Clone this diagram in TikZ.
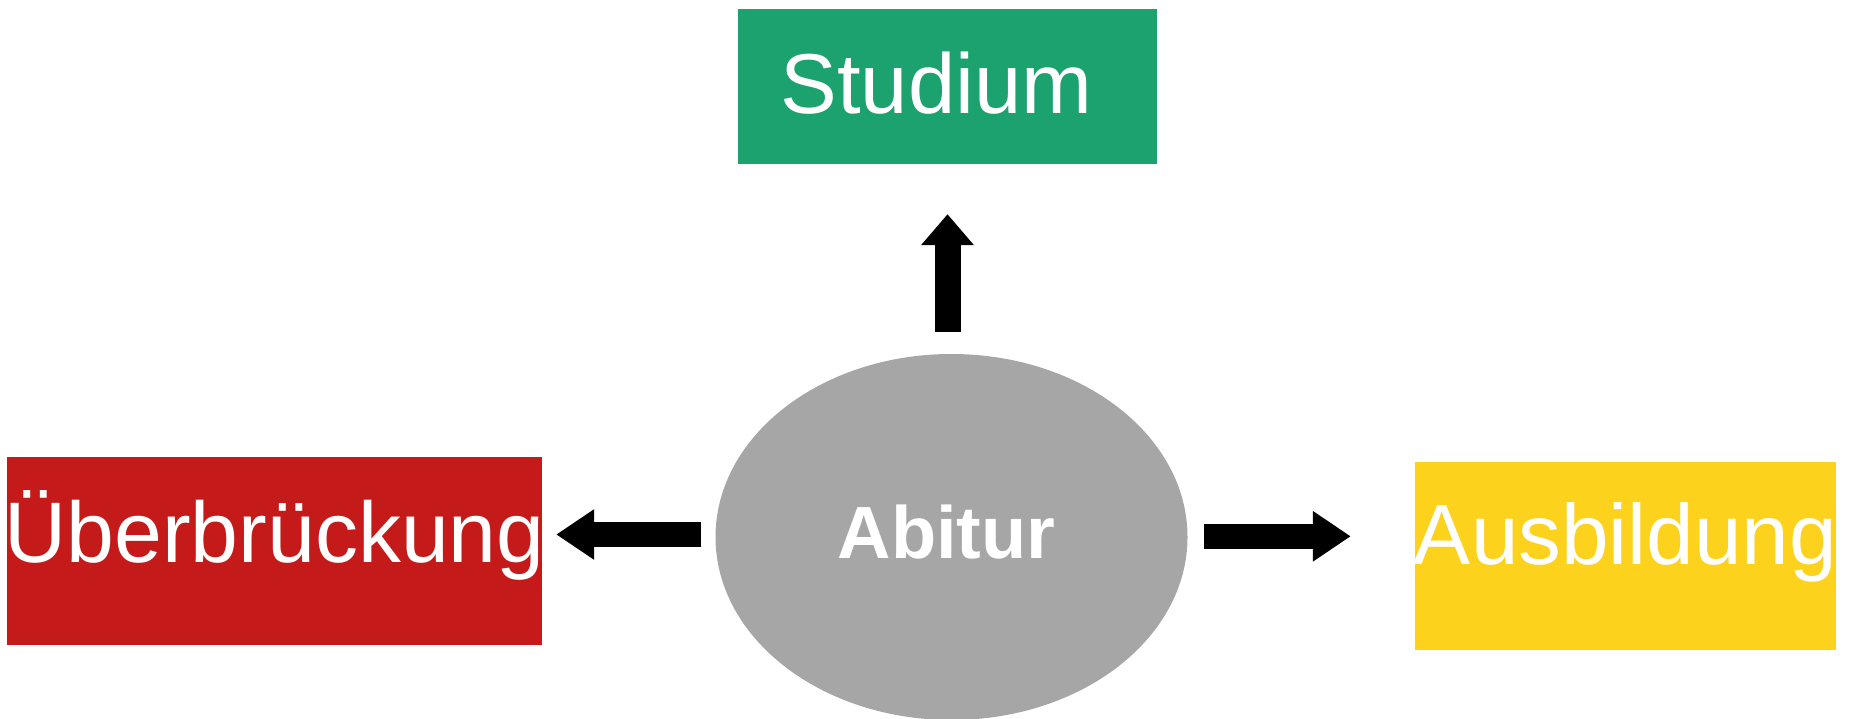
\documentclass[tikz,border=0pt]{standalone}
\usepackage{fontspec}
\setmainfont{Liberation Sans}
\usetikzlibrary{arrows.meta,shapes.geometric}
\definecolor{stgreen}{HTML}{1BA26E}
\definecolor{ubred}{HTML}{C41A1A}
\definecolor{ausyellow}{HTML}{FDD21C}
\definecolor{abigray}{HTML}{A6A6A6}
\begin{document}
\begin{tikzpicture}[x=1pt,y=-1pt,
  box/.style={rectangle, inner sep=0pt, text=white},
  bigarrow/.style={line width=25pt, -{Triangle[length=38pt,width=48pt]}},
  uparrow/.style={line width=26pt, -{Triangle[length=31pt,width=51pt]}}]
\useasboundingbox (0,0) rectangle (1851,719);
\node[box, fill=stgreen, font=\fontsize{85}{85}\selectfont, minimum width=419pt, minimum height=155pt, text height=60pt, text depth=6pt] (studium) at (947.5,86.5) {Studium\kern22pt};
\node[box, fill=ubred, font=\fontsize{86}{86}\selectfont, minimum width=535pt, minimum height=188pt, text height=62pt, text depth=40pt] (ubr) at (274.5,551) {\makebox[0pt]{Überbrückung}};
\node[box, fill=ausyellow, font=\fontsize{85.5}{85.5}\selectfont, minimum width=421pt, minimum height=188pt, text height=60pt, text depth=44pt] (aus) at (1625.5,556) {\makebox[0pt]{Ausbildung}};
\node[ellipse, fill=abigray, inner sep=0pt, minimum width=472pt, minimum height=366pt, text=white, font=\fontsize{74}{74}\selectfont\bfseries, text height=56pt, text depth=14pt] (abitur) at (951.5,537) {Abitur\kern10pt};
\draw[uparrow, shorten <=22pt, shorten >=50pt] (studium.south |- abitur.north) -- (studium.south);
\draw[bigarrow, shorten <=14pt, shorten >=14pt] ([yshift=2.5pt]abitur.west) -- ([yshift=2.5pt]abitur.west -| ubr.east);
\draw[bigarrow, shorten <=16pt, shorten >=64pt] ([yshift=0.7pt]abitur.east) -- ([yshift=0.7pt]abitur.east -| aus.west);
\end{tikzpicture}
\end{document}
